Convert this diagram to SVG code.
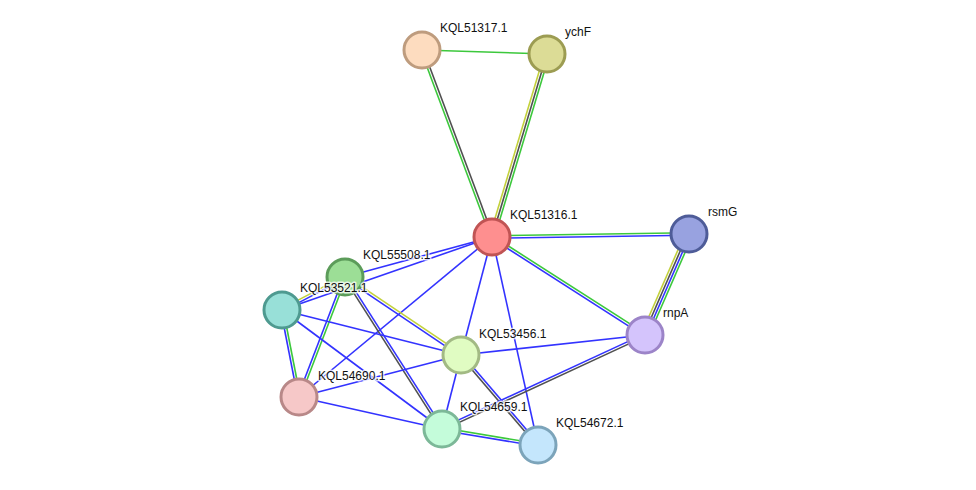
<svg xmlns="http://www.w3.org/2000/svg" width="976" height="490" viewBox="0 0 976 490">
<style>
line{stroke-width:1.6;fill:none}
.g{stroke:#3cc83c}
.b{stroke:#3333ff}
.d{stroke:#505050}
.y{stroke:#c3d13c}
circle{stroke-width:3}
text{font-family:"Liberation Sans",Arial,sans-serif;font-size:12px;fill:#111;stroke:#fff;stroke-width:3;stroke-opacity:0.75;paint-order:stroke;stroke-linejoin:round}
</style>
<rect width="976" height="490" fill="#fff"/>
<g id="connectors">
<line class="g" x1="422" y1="50" x2="547" y2="54"/>
<line class="g" x1="420.83" y1="50.44" x2="490.83" y2="237.44"/>
<line class="d" x1="423.17" y1="49.56" x2="493.17" y2="236.56"/>
<line class="y" x1="544.61" y1="53.28" x2="489.61" y2="236.28"/>
<line class="d" x1="547" y1="54" x2="492" y2="237"/>
<line class="g" x1="549.39" y1="54.72" x2="494.39" y2="237.72"/>
<line class="g" x1="492" y1="235.75" x2="689" y2="232.75"/>
<line class="b" x1="492" y1="238.25" x2="689" y2="235.25"/>
<line class="g" x1="492.67" y1="235.95" x2="645.67" y2="333.95"/>
<line class="b" x1="491.33" y1="238.05" x2="644.33" y2="336.05"/>
<line class="y" x1="685.56" y1="232.5" x2="641.56" y2="333.5"/>
<line class="d" x1="687.85" y1="233.5" x2="643.85" y2="334.5"/>
<line class="b" x1="690.15" y1="234.5" x2="646.15" y2="335.5"/>
<line class="g" x1="692.44" y1="235.5" x2="648.44" y2="336.5"/>
<line class="b" x1="492" y1="237" x2="345" y2="277"/>
<line class="b" x1="492" y1="237" x2="282" y2="310"/>
<line class="b" x1="492" y1="237" x2="299" y2="397"/>
<line class="b" x1="492" y1="237" x2="461" y2="355"/>
<line class="b" x1="492" y1="237" x2="538" y2="445"/>
<line class="y" x1="344.42" y1="275.89" x2="281.42" y2="308.89"/>
<line class="b" x1="345.58" y1="278.11" x2="282.58" y2="311.11"/>
<line class="y" x1="345.7" y1="275.96" x2="461.7" y2="353.96"/>
<line class="b" x1="344.3" y1="278.04" x2="460.3" y2="356.04"/>
<line class="d" x1="343.95" y1="277.67" x2="440.95" y2="429.67"/>
<line class="b" x1="346.05" y1="276.33" x2="443.05" y2="428.33"/>
<line class="b" x1="343.83" y1="276.55" x2="297.83" y2="396.55"/>
<line class="g" x1="346.17" y1="277.45" x2="300.17" y2="397.45"/>
<line class="b" x1="280.77" y1="310.24" x2="297.77" y2="397.24"/>
<line class="g" x1="283.23" y1="309.76" x2="300.23" y2="396.76"/>
<line class="b" x1="282" y1="310" x2="461" y2="355"/>
<line class="b" x1="282" y1="310" x2="442" y2="429"/>
<line class="b" x1="299" y1="397" x2="461" y2="355"/>
<line class="b" x1="299" y1="397" x2="442" y2="429"/>
<line class="b" x1="461" y1="355" x2="442" y2="429"/>
<line class="b" x1="461" y1="355" x2="645" y2="335"/>
<line class="d" x1="460.05" y1="355.81" x2="537.05" y2="445.81"/>
<line class="b" x1="461.95" y1="354.19" x2="538.95" y2="444.19"/>
<line class="b" x1="441.47" y1="427.87" x2="644.47" y2="333.87"/>
<line class="d" x1="442.53" y1="430.13" x2="645.53" y2="336.13"/>
<line class="g" x1="442.21" y1="427.77" x2="538.21" y2="443.77"/>
<line class="b" x1="441.79" y1="430.23" x2="537.79" y2="446.23"/>
</g>
<g id="KQL51317.1"><circle cx="422" cy="50" r="18" fill="#fddcbf" stroke="#be9c7e"/><text x="440" y="32">KQL51317.1</text></g>
<g id="ychF"><circle cx="547" cy="54" r="18" fill="#dcdc96" stroke="#9c9c52"/><text x="565" y="36">ychF</text></g>
<g id="KQL51316.1"><circle cx="492" cy="237" r="18" fill="#fe8f8f" stroke="#c05454"/><text x="510" y="219">KQL51316.1</text></g>
<g id="rsmG"><circle cx="689" cy="234" r="18" fill="#98a2e0" stroke="#4e5c98"/><text x="708" y="216">rsmG</text></g>
<g id="KQL55508.1"><circle cx="345" cy="277" r="18" fill="#9cde96" stroke="#5c9c5a"/><text x="363" y="259">KQL55508.1</text></g>
<g id="KQL53521.1"><circle cx="282" cy="310" r="18" fill="#98e0d8" stroke="#4e9a90"/><text x="300" y="292">KQL53521.1</text></g>
<g id="KQL53456.1"><circle cx="461" cy="355" r="18" fill="#e0fcc2" stroke="#a2ba84"/><text x="479" y="338">KQL53456.1</text></g>
<g id="rnpA"><circle cx="645" cy="335" r="18" fill="#d4c4fc" stroke="#9c84c8"/><text x="663" y="317">rnpA</text></g>
<g id="KQL54690.1"><circle cx="299" cy="397" r="18" fill="#f6c8c8" stroke="#b88888"/><text x="318" y="380">KQL54690.1</text></g>
<g id="KQL54659.1"><circle cx="442" cy="429" r="18" fill="#c4fcda" stroke="#7cb898"/><text x="460" y="411">KQL54659.1</text></g>
<g id="KQL54672.1"><circle cx="538" cy="445" r="18" fill="#c4e6fc" stroke="#7ca4ba"/><text x="556" y="427">KQL54672.1</text></g>
</svg>
